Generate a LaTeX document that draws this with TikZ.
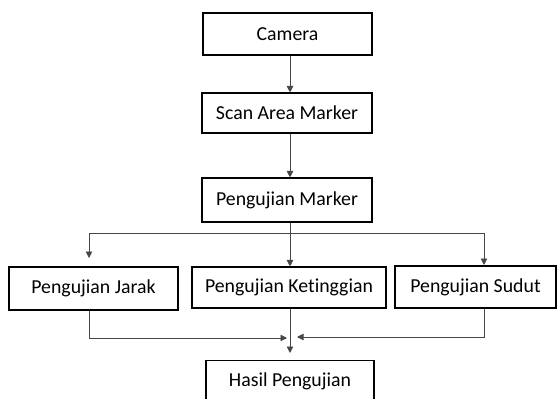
\documentclass[tikz,border=0pt]{standalone}
\usepackage{fontspec}
\setmainfont{Carlito}[Ligatures={NoCommon}]
\usetikzlibrary{arrows.meta}
\begin{document}
\begin{tikzpicture}[x=1pt,y=-1pt,
  box/.style={draw=black,line width=1.1pt,fill=white,inner sep=0pt,
    font=\fontsize{19.8}{23}\selectfont},
  conn/.style={draw=black!72,line width=0.9pt},
  arr/.style={conn,-{Triangle[length=6.5pt,width=6.5pt]}}]
\useasboundingbox[fill=white] (0,0) rectangle (560,399);
\node[box,minimum width=169pt,minimum height=42pt] (cam) at (287.5,34) {Camera};
\node[box,minimum width=170pt,minimum height=40pt] (scan) at (287,113) {Scan Area Marker};
\node[box,minimum width=170pt,minimum height=44pt] (pm) at (287,200) {Pengujian Marker};
\node[box,minimum width=169pt,minimum height=43pt] (jarak) at (93.5,288.5) {Pengujian Jarak};
\node[box,minimum width=194pt,minimum height=41pt] (ket) at (289,287.5) {Pengujian Ketinggian};
\node[box,minimum width=161pt,minimum height=42pt] (sudut) at (475.5,287) {\raisebox{2pt}{Pengujian Sudut}};
\node[box,minimum width=168pt,minimum height=42pt,anchor=north] (hasil) at (290,360) {\raisebox{4pt}{Hasil Pengujian}};
\coordinate (mx) at (290,0);
\coordinate (bar) at (0,233);
\coordinate (jx) at (89,0);
\coordinate (sx) at (484,0);
\coordinate (jt) at (89,258);
\coordinate (st) at (484,265);
\coordinate (lt) at (287,338);
\coordinate (rt) at (297,337);
\coordinate (ht) at (290,353);
\draw[arr] (cam.south -| mx) -- (scan.north -| mx);
\draw[arr] (scan.south -| mx) -- (pm.north -| mx);
\draw[arr] (pm.south -| mx) -- (ket.north -| mx);
\draw[arr] (bar -| mx) -| (jt);
\draw[arr] (bar -| mx) -| (st);
\draw[arr] (jarak.south -| jx) |- (lt);
\draw[arr] (sudut.south -| sx) |- (rt);
\draw[arr] (ket.south -| mx) -- (ht);
\end{tikzpicture}
\end{document}
